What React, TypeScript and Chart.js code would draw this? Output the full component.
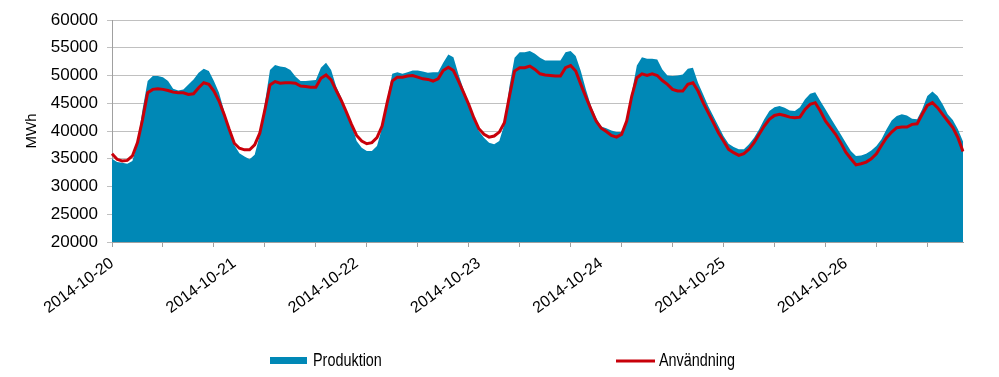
import React, { useEffect, useRef } from 'react';
import { Chart, registerables } from 'chart.js';

Chart.register(...registerables);

const days = ['2014-10-20', '2014-10-21', '2014-10-22', '2014-10-23', '2014-10-24', '2014-10-25', '2014-10-26'];
const hours = ['00', '01', '02', '03', '04', '05', '06', '07', '08', '09', '10', '11', '12', '13', '14', '15', '16', '17', '18', '19', '20', '21', '22', '23'];
const seriesNames = ['Produktion', 'Användning'];

const produktion = [
  35000, 34400, 34300, 34100, 34600, 37900, 43900, 49000, 49900, 49900, 49700, 49000, 47600, 47300, 47500, 48400, 49300, 50500, 51200, 50800, 49000, 46900, 43600, 40300,
  37500, 36000, 35400, 34900, 35700, 39300, 45000, 51000, 51900, 51600, 51500, 51000, 49800, 49000, 49000, 49100, 49200, 51400, 52300, 51000, 48000, 46000, 43500, 41300,
  38200, 37000, 36400, 36400, 37300, 40600, 45700, 50300, 50600, 50300, 50600, 50900, 50900, 50700, 50500, 50600, 50600, 52300, 53800, 53300, 50200, 47500, 45100, 42400,
  40000, 38800, 37900, 37600, 38200, 41200, 48100, 53200, 54200, 54200, 54400, 53900, 53200, 52700, 52700, 52700, 52700, 54200, 54400, 53500, 50800, 47500, 44500, 42400,
  40800, 40500, 40100, 39800, 39800, 42100, 46900, 51800, 53300, 53000, 53000, 52900, 51100, 50000, 49900, 50000, 50200, 51200, 51400, 48700, 46600, 44500, 42700, 40900,
  39100, 37700, 37100, 36700, 36700, 37600, 38800, 40300, 42100, 43600, 44300, 44500, 44200, 43700, 43600, 44300, 45700, 46700, 47000, 45400, 43900, 42400, 40900, 39400,
  37900, 36400, 35500, 35600, 35900, 36500, 37300, 38500, 40300, 41900, 42700, 43000, 42800, 42200, 42100, 43900, 46300, 47100, 46300, 44800, 43000, 42000, 40300, 38100,
];

const anvandning = [
  35900, 34900, 34600, 34700, 35500, 37900, 42100, 46900, 47500, 47600, 47500, 47300, 47000, 46900, 46900, 46600, 46700, 47800, 48700, 48400, 47200, 45400, 43000, 40300,
  37800, 36900, 36600, 36600, 37500, 39600, 43800, 48300, 48900, 48600, 48700, 48700, 48600, 48100, 48000, 47900, 47900, 49500, 50100, 49200, 47300, 45500, 43400, 41200,
  39200, 38200, 37700, 37900, 38800, 40900, 45100, 49000, 49700, 49700, 49900, 50000, 49700, 49400, 49300, 49000, 49400, 50900, 51500, 50900, 49000, 46900, 44800, 42400,
  40400, 39400, 38900, 39100, 39800, 41500, 46300, 50800, 51400, 51400, 51700, 51100, 50300, 50100, 50000, 49900, 49900, 51400, 51800, 50800, 48400, 46100, 43900, 41800,
  40500, 39900, 39200, 38900, 39400, 41800, 46300, 49600, 50300, 50000, 50300, 50000, 49100, 48400, 47500, 47200, 47200, 48400, 48700, 47200, 45100, 43300, 41500, 39700,
  38200, 36700, 36100, 35600, 35900, 36700, 37900, 39400, 40900, 42100, 42800, 43000, 42800, 42500, 42400, 42500, 43900, 44800, 45100, 43600, 41800, 40600, 39400, 37900,
  36200, 35000, 33900, 34100, 34400, 35000, 35900, 37400, 38800, 39800, 40600, 40700, 40700, 41200, 41300, 43000, 44600, 45100, 44200, 43000, 41800, 40600, 38800, 36300,
];

const labels = days.flatMap((d) => hours.map((h) => `${d} ${h}:00`));

const BLUE = '#0088b6';
const RED = '#c8000a';
const GRID = '#c0c0c0';
const AXIS = '#a0a0a0';
const FONT = "'Liberation Sans', Arial, sans-serif";

function drawNarrowText(ctx: any, text: string, x: number, y: number) {
  ctx.save();
  ctx.translate(x, y);
  ctx.scale(0.8, 1);
  ctx.fillText(text, 0, 0);
  ctx.restore();
}

const legendPlugin = {
  id: 'customLegend',
  afterDraw(chart: any) {
    const ctx = chart.ctx;
    ctx.save();
    const y = 361;
    ctx.font = `18px ${FONT}`;
    ctx.textBaseline = 'middle';
    ctx.textAlign = 'left';
    ctx.fillStyle = BLUE;
    ctx.fillRect(270, 357, 37, 7);
    ctx.fillStyle = '#000';
    drawNarrowText(ctx, seriesNames[0], 313, y);
    ctx.strokeStyle = RED;
    ctx.lineWidth = 3;
    ctx.beginPath();
    ctx.moveTo(616, y);
    ctx.lineTo(655, y);
    ctx.stroke();
    ctx.fillStyle = '#000';
    drawNarrowText(ctx, seriesNames[1], 659, y);
    ctx.restore();
  },
};

export default function App() {
  const ref = useRef<HTMLCanvasElement | null>(null);

  useEffect(() => {
    if (!ref.current) return;
    const chart = new Chart(ref.current, {
      type: 'line',
      data: {
        labels,
        datasets: [
          {
            label: seriesNames[0],
            data: produktion,
            backgroundColor: BLUE,
            borderColor: BLUE,
            borderWidth: 0,
            fill: 'start',
            pointRadius: 0,
            tension: 0,
            order: 1,
          },
          {
            label: seriesNames[1],
            data: anvandning,
            borderColor: RED,
            backgroundColor: RED,
            borderWidth: 3,
            fill: false,
            pointRadius: 0,
            tension: 0,
            order: 0,
          },
        ],
      },
      options: {
        responsive: false,
        animation: false,
        layout: { padding: { top: 20, right: 36, bottom: 0, left: 0 } },
        plugins: {
          legend: { display: false },
          tooltip: { enabled: false },
        },
        scales: {
          x: {
            type: 'category',
            offset: false,
            afterFit: (scale: any) => {
              scale.height = 135;
            },
            border: { display: true, color: AXIS, width: 1 },
            grid: {
              display: true,
              drawOnChartArea: false,
              drawTicks: true,
              tickLength: 5,
              tickColor: (c: any) => (c.index % 10 === 0 ? AXIS : 'rgba(0,0,0,0)'),
            },
            ticks: {
              autoSkip: false,
              minRotation: 36,
              maxRotation: 36,
              padding: 7,
              color: '#000',
              font: { family: FONT, size: 16 },
              callback: (_v: any, i: number) => (i % 24 === 0 ? days[i / 24] : ''),
            },
          },
          y: {
            min: 20000,
            max: 60000,
            afterFit: (scale: any) => {
              scale.width = 112;
            },
            border: { display: true, color: AXIS, width: 1 },
            grid: { color: GRID, lineWidth: 1, tickLength: 5, tickColor: GRID },
            ticks: {
              stepSize: 5000,
              padding: 9,
              color: '#000',
              font: { family: FONT, size: 17 },
              callback: (v: any) => String(v),
            },
            title: {
              display: true,
              text: 'MWh',
              color: '#000',
              font: { family: FONT, size: 15 },
              padding: { top: 23, bottom: 0 },
            },
          },
        },
      },
      plugins: [legendPlugin],
    });
    return () => chart.destroy();
  }, []);

  return (
    <div style={{ position: 'absolute', left: 0, top: 0, width: 999, height: 377, background: '#fff' }}>
      <canvas ref={ref} width={999} height={377} />
    </div>
  );
}
